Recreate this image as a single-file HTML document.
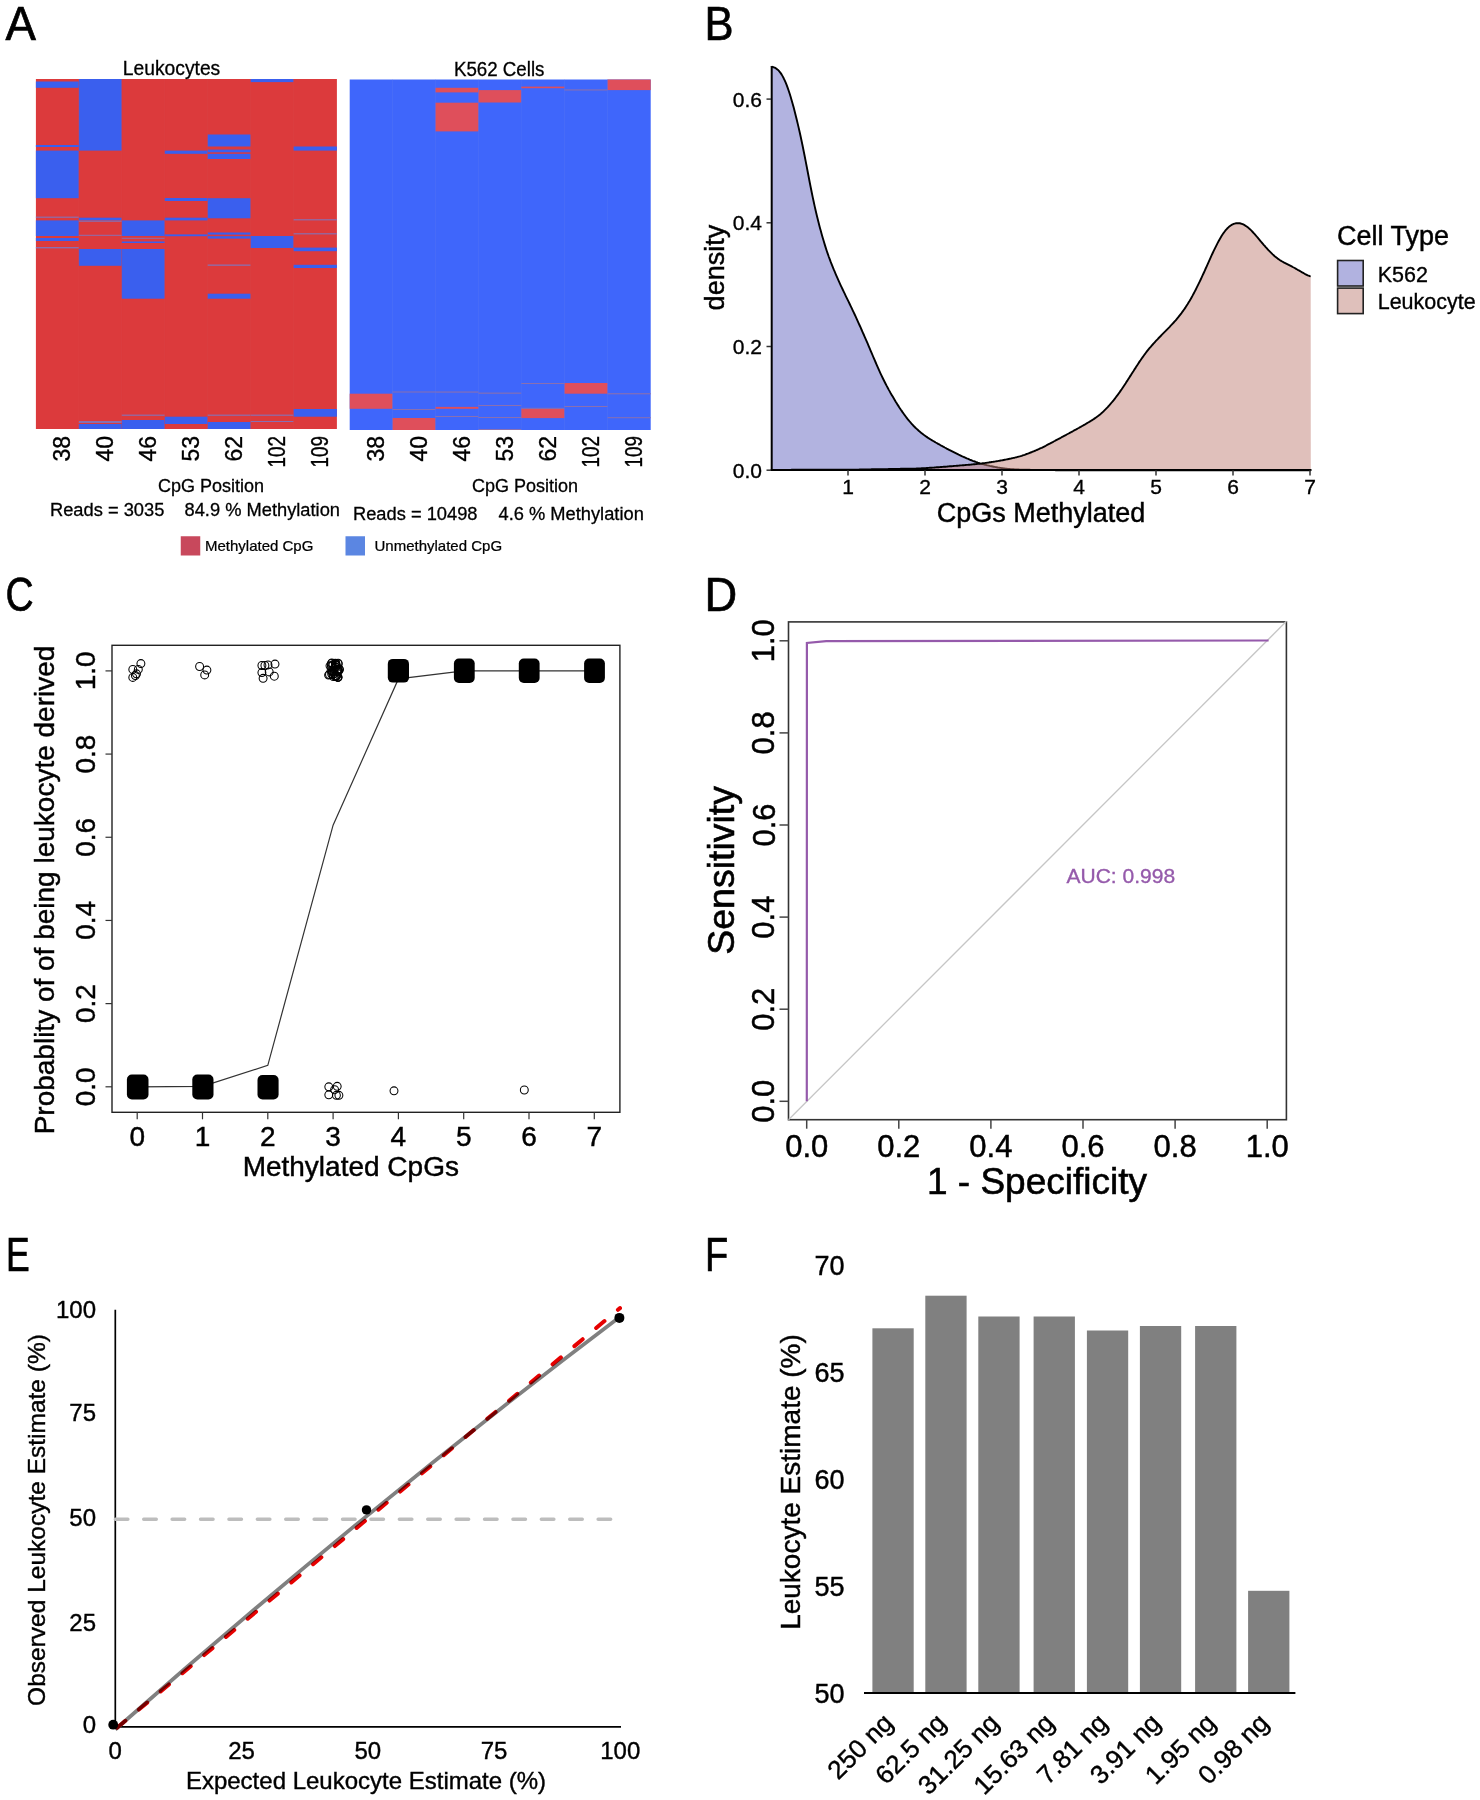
<!DOCTYPE html>
<html><head><meta charset="utf-8"><title>Figure</title>
<style>
html,body{margin:0;padding:0;background:#fff;}
body{width:1480px;height:1800px;overflow:hidden;}
svg{display:block;font-family:"Liberation Sans", sans-serif;}
</style></head><body>
<svg width="1480" height="1800" viewBox="0 0 1480 1800">
<rect x="0" y="0" width="1480" height="1800" fill="#fff"/>
<text x="0" y="0" font-size="48.7" stroke="#000" stroke-width="0.7" transform="translate(5.45 40.3) scale(0.937 1)">A</text>
<text x="0" y="0" font-size="48.7" stroke="#000" stroke-width="0.7" transform="translate(704.6 40.2) scale(0.894 1)">B</text>
<text x="0" y="0" font-size="48.7" stroke="#000" stroke-width="0.7" transform="translate(5.55 611.2) scale(0.8 1)">C</text>
<text x="0" y="0" font-size="48.7" stroke="#000" stroke-width="0.7" transform="translate(704.4 611.3) scale(0.93 1)">D</text>
<text x="0" y="0" font-size="48.7" stroke="#000" stroke-width="0.7" transform="translate(5.96 1270.9) scale(0.73 1)">E</text>
<text x="0" y="0" font-size="48.7" stroke="#000" stroke-width="0.7" transform="translate(705.05 1270.9) scale(0.78 1)">F</text>
<rect x="35.90" y="79.00" width="301.00" height="350.00" fill="#dc3a3c" />
<rect x="35.90" y="81.50" width="42.90" height="6.30" fill="#3a5fee" />
<rect x="35.90" y="145.00" width="42.90" height="2.00" fill="#3a5fee" />
<rect x="35.90" y="150.60" width="42.90" height="47.60" fill="#3a5fee" />
<rect x="35.90" y="220.40" width="42.90" height="15.60" fill="#3a5fee" />
<rect x="35.90" y="238.00" width="42.90" height="3.00" fill="#3a5fee" />
<rect x="78.80" y="79.00" width="42.90" height="71.60" fill="#3a5fee" />
<rect x="78.80" y="217.70" width="42.90" height="2.70" fill="#3a5fee" />
<rect x="78.80" y="249.00" width="42.90" height="16.80" fill="#3a5fee" />
<rect x="78.80" y="424.00" width="42.90" height="5.00" fill="#3a5fee" />
<rect x="121.70" y="220.40" width="43.00" height="15.60" fill="#3a5fee" />
<rect x="121.70" y="241.50" width="43.00" height="1.50" fill="#3a5fee" />
<rect x="121.70" y="249.00" width="43.00" height="49.70" fill="#3a5fee" />
<rect x="121.70" y="420.00" width="43.00" height="9.00" fill="#3a5fee" />
<rect x="164.70" y="150.60" width="42.90" height="3.20" fill="#3a5fee" />
<rect x="164.70" y="198.00" width="42.90" height="3.00" fill="#3a5fee" />
<rect x="164.70" y="217.70" width="42.90" height="2.70" fill="#3a5fee" />
<rect x="164.70" y="416.70" width="42.90" height="7.30" fill="#3a5fee" />
<rect x="207.60" y="134.50" width="43.00" height="12.00" fill="#3a5fee" />
<rect x="207.60" y="149.60" width="43.00" height="2.70" fill="#3a5fee" />
<rect x="207.60" y="153.80" width="43.00" height="5.20" fill="#3a5fee" />
<rect x="207.60" y="198.20" width="43.00" height="20.10" fill="#3a5fee" />
<rect x="207.60" y="236.20" width="43.00" height="2.40" fill="#3a5fee" />
<rect x="207.60" y="232.50" width="43.00" height="2.10" fill="#3a5fee" />
<rect x="164.70" y="234.40" width="42.90" height="1.80" fill="#3a5fee" />
<rect x="207.60" y="293.70" width="43.00" height="5.00" fill="#3a5fee" />
<rect x="207.60" y="422.00" width="43.00" height="7.00" fill="#3a5fee" />
<rect x="250.60" y="79.00" width="42.90" height="3.10" fill="#3a5fee" />
<rect x="250.60" y="236.00" width="42.90" height="12.00" fill="#3a5fee" />
<rect x="293.50" y="146.50" width="43.40" height="4.10" fill="#3a5fee" />
<rect x="293.50" y="247.60" width="43.40" height="3.60" fill="#3a5fee" />
<rect x="293.50" y="264.80" width="43.40" height="3.20" fill="#3a5fee" />
<rect x="293.50" y="409.00" width="43.40" height="7.70" fill="#3a5fee" />
<rect x="35.90" y="216.60" width="42.90" height="1.20" fill="#8a6fb0" />
<rect x="35.90" y="247.00" width="42.90" height="1.40" fill="#8a6fb0" />
<rect x="78.80" y="220.60" width="42.90" height="1.20" fill="#8a6fb0" />
<rect x="78.80" y="234.80" width="42.90" height="1.00" fill="#8a6fb0" />
<rect x="78.80" y="421.00" width="42.90" height="2.00" fill="#8a6fb0" />
<rect x="121.70" y="237.80" width="43.00" height="1.00" fill="#8a6fb0" />
<rect x="207.60" y="264.50" width="43.00" height="1.30" fill="#8a6fb0" />
<rect x="121.70" y="414.60" width="43.00" height="1.20" fill="#8a6fb0" />
<rect x="207.60" y="414.60" width="43.00" height="1.20" fill="#8a6fb0" />
<rect x="250.60" y="414.60" width="42.90" height="1.20" fill="#8a6fb0" />
<rect x="293.50" y="219.20" width="43.40" height="1.20" fill="#8a6fb0" />
<rect x="293.50" y="233.20" width="43.40" height="1.20" fill="#8a6fb0" />
<rect x="250.60" y="421.00" width="42.90" height="1.00" fill="#8a6fb0" />
<rect x="78.40" y="79.00" width="0.80" height="350.00" fill="#d9484a" opacity="0.35"/>
<rect x="121.30" y="79.00" width="0.80" height="350.00" fill="#d9484a" opacity="0.35"/>
<rect x="164.30" y="79.00" width="0.80" height="350.00" fill="#d9484a" opacity="0.35"/>
<rect x="207.20" y="79.00" width="0.80" height="350.00" fill="#d9484a" opacity="0.35"/>
<rect x="250.20" y="79.00" width="0.80" height="350.00" fill="#d9484a" opacity="0.35"/>
<rect x="293.10" y="79.00" width="0.80" height="350.00" fill="#d9484a" opacity="0.35"/>
<rect x="349.70" y="79.50" width="301.00" height="350.50" fill="#3f66fb" />
<rect x="435.40" y="87.80" width="43.00" height="4.60" fill="#df4f5b" />
<rect x="435.40" y="102.70" width="43.00" height="28.70" fill="#df4f5b" />
<rect x="478.40" y="90.10" width="42.80" height="12.40" fill="#df4f5b" />
<rect x="521.20" y="86.60" width="43.20" height="1.60" fill="#df4f5b" />
<rect x="607.50" y="79.50" width="43.20" height="10.60" fill="#df4f5b" />
<rect x="349.70" y="393.70" width="42.80" height="15.10" fill="#df4f5b" />
<rect x="392.50" y="418.00" width="42.90" height="12.00" fill="#df4f5b" />
<rect x="435.40" y="406.90" width="43.00" height="1.90" fill="#df4f5b" />
<rect x="521.20" y="408.80" width="43.20" height="9.30" fill="#df4f5b" />
<rect x="564.40" y="383.00" width="43.10" height="10.70" fill="#df4f5b" />
<rect x="564.40" y="89.40" width="43.10" height="1.10" fill="#8a6fb0" />
<rect x="392.50" y="391.50" width="42.90" height="1.00" fill="#8a6fb0" />
<rect x="435.40" y="391.50" width="43.00" height="1.10" fill="#8a6fb0" />
<rect x="478.40" y="392.60" width="42.80" height="1.10" fill="#8a6fb0" />
<rect x="521.20" y="383.00" width="43.20" height="1.00" fill="#8a6fb0" />
<rect x="478.40" y="405.00" width="42.80" height="1.00" fill="#8a6fb0" />
<rect x="435.40" y="416.00" width="43.00" height="1.00" fill="#8a6fb0" />
<rect x="478.40" y="417.00" width="42.80" height="1.00" fill="#8a6fb0" />
<rect x="564.40" y="406.00" width="43.10" height="1.00" fill="#8a6fb0" />
<rect x="607.50" y="393.20" width="43.20" height="1.10" fill="#8a6fb0" />
<rect x="607.50" y="417.20" width="43.20" height="1.00" fill="#8a6fb0" />
<rect x="392.50" y="409.00" width="42.90" height="1.00" fill="#8a6fb0" />
<rect x="521.20" y="407.80" width="43.20" height="1.00" fill="#8a6fb0" />
<rect x="478.40" y="429.00" width="42.80" height="1.00" fill="#8a6fb0" />
<rect x="392.10" y="79.50" width="0.80" height="350.50" fill="#5f7cf0" opacity="0.35"/>
<rect x="435.00" y="79.50" width="0.80" height="350.50" fill="#5f7cf0" opacity="0.35"/>
<rect x="478.00" y="79.50" width="0.80" height="350.50" fill="#5f7cf0" opacity="0.35"/>
<rect x="520.80" y="79.50" width="0.80" height="350.50" fill="#5f7cf0" opacity="0.35"/>
<rect x="564.00" y="79.50" width="0.80" height="350.50" fill="#5f7cf0" opacity="0.35"/>
<rect x="607.10" y="79.50" width="0.80" height="350.50" fill="#5f7cf0" opacity="0.35"/>
<text x="171.5" y="75.3" font-size="20" text-anchor="middle" fill="#000" stroke="#000" stroke-width="0.3" textLength="97.5" lengthAdjust="spacingAndGlyphs">Leukocytes</text>
<text x="499.2" y="75.6" font-size="20" text-anchor="middle" fill="#000" stroke="#000" stroke-width="0.3" textLength="90.5" lengthAdjust="spacingAndGlyphs">K562 Cells</text>
<text x="70.3" y="436.0" font-size="23" text-anchor="end" fill="#000" stroke="#000" stroke-width="0.37" transform="rotate(-90 70.3 436.0)" >38</text>
<text x="384.1" y="436.0" font-size="23" text-anchor="end" fill="#000" stroke="#000" stroke-width="0.37" transform="rotate(-90 384.1 436.0)" >38</text>
<text x="113.2" y="436.0" font-size="23" text-anchor="end" fill="#000" stroke="#000" stroke-width="0.37" transform="rotate(-90 113.2 436.0)" >40</text>
<text x="426.9" y="436.0" font-size="23" text-anchor="end" fill="#000" stroke="#000" stroke-width="0.37" transform="rotate(-90 426.9 436.0)" >40</text>
<text x="156.2" y="436.0" font-size="23" text-anchor="end" fill="#000" stroke="#000" stroke-width="0.37" transform="rotate(-90 156.2 436.0)" >46</text>
<text x="469.9" y="436.0" font-size="23" text-anchor="end" fill="#000" stroke="#000" stroke-width="0.37" transform="rotate(-90 469.9 436.0)" >46</text>
<text x="199.1" y="436.0" font-size="23" text-anchor="end" fill="#000" stroke="#000" stroke-width="0.37" transform="rotate(-90 199.1 436.0)" >53</text>
<text x="512.8" y="436.0" font-size="23" text-anchor="end" fill="#000" stroke="#000" stroke-width="0.37" transform="rotate(-90 512.8 436.0)" >53</text>
<text x="242.1" y="436.0" font-size="23" text-anchor="end" fill="#000" stroke="#000" stroke-width="0.37" transform="rotate(-90 242.1 436.0)" >62</text>
<text x="555.8" y="436.0" font-size="23" text-anchor="end" fill="#000" stroke="#000" stroke-width="0.37" transform="rotate(-90 555.8 436.0)" >62</text>
<text x="285.1" y="436.0" font-size="23" text-anchor="end" fill="#000" stroke="#000" stroke-width="0.37" transform="rotate(-90 285.1 436.0)" textLength="31.5" lengthAdjust="spacingAndGlyphs">102</text>
<text x="599.0" y="436.0" font-size="23" text-anchor="end" fill="#000" stroke="#000" stroke-width="0.37" transform="rotate(-90 599.0 436.0)" textLength="31.5" lengthAdjust="spacingAndGlyphs">102</text>
<text x="328.2" y="436.0" font-size="23" text-anchor="end" fill="#000" stroke="#000" stroke-width="0.37" transform="rotate(-90 328.2 436.0)" textLength="31.5" lengthAdjust="spacingAndGlyphs">109</text>
<text x="642.1" y="436.0" font-size="23" text-anchor="end" fill="#000" stroke="#000" stroke-width="0.37" transform="rotate(-90 642.1 436.0)" textLength="31.5" lengthAdjust="spacingAndGlyphs">109</text>
<text x="211.0" y="491.5" font-size="18" text-anchor="middle" fill="#000" stroke="#000" stroke-width="0.29" >CpG Position</text>
<text x="525.0" y="491.5" font-size="18" text-anchor="middle" fill="#000" stroke="#000" stroke-width="0.29" >CpG Position</text>
<text x="50.0" y="516.3" font-size="18.3" text-anchor="start" fill="#000" stroke="#000" stroke-width="0.29" >Reads = 3035</text>
<text x="184.5" y="516.3" font-size="18.3" text-anchor="start" fill="#000" stroke="#000" stroke-width="0.29" >84.9 % Methylation</text>
<text x="353.0" y="520.0" font-size="18.3" text-anchor="start" fill="#000" stroke="#000" stroke-width="0.29" >Reads = 10498</text>
<text x="498.5" y="520.0" font-size="18.3" text-anchor="start" fill="#000" stroke="#000" stroke-width="0.29" >4.6 % Methylation</text>
<rect x="180.75" y="536.25" width="19.50" height="19.25" fill="#c8485c" />
<text x="205.0" y="551.3" font-size="15" text-anchor="start" fill="#000" stroke="#000" stroke-width="0.24" >Methylated CpG</text>
<rect x="345.50" y="536.25" width="19.50" height="19.25" fill="#5b86e2" />
<text x="374.5" y="551.3" font-size="15" text-anchor="start" fill="#000" stroke="#000" stroke-width="0.24" >Unmethylated CpG</text>
<path d="M771.7,470 L771.7,66.2 L771.7,66.7 L772.7,66.9 L773.7,67.3 L774.7,67.7 L775.7,68.2 L776.7,68.9 L777.7,69.7 L778.7,70.7 L779.7,71.8 L780.7,73.1 L781.7,74.6 L782.7,76.4 L783.7,78.3 L784.7,80.4 L785.7,82.7 L786.7,85.2 L787.7,87.9 L788.7,90.7 L789.7,93.8 L790.7,97.0 L791.7,100.4 L792.7,103.9 L793.7,107.6 L794.7,111.4 L795.7,115.4 L796.7,119.4 L797.7,123.6 L798.7,127.9 L799.7,132.3 L800.7,136.8 L801.7,141.5 L802.7,146.3 L803.7,151.2 L804.7,156.2 L805.7,161.4 L806.7,166.5 L807.7,171.8 L808.7,177.0 L809.7,182.2 L810.7,187.3 L811.7,192.3 L812.7,197.1 L813.7,201.8 L814.7,206.4 L815.7,210.7 L816.7,215.0 L817.7,219.1 L818.7,223.0 L819.7,226.9 L820.7,230.6 L821.7,234.2 L822.7,237.7 L823.7,241.1 L824.7,244.4 L825.7,247.6 L826.7,250.7 L827.7,253.6 L828.7,256.5 L829.7,259.2 L830.7,261.9 L831.7,264.4 L832.7,266.9 L833.7,269.4 L834.7,271.7 L835.7,274.1 L836.7,276.4 L837.7,278.7 L838.7,280.9 L839.7,283.1 L840.7,285.3 L841.7,287.4 L842.7,289.5 L843.7,291.6 L844.7,293.7 L845.7,295.8 L846.7,297.8 L847.7,299.9 L848.7,301.9 L849.7,304.0 L850.7,306.1 L851.7,308.2 L852.7,310.3 L853.7,312.4 L854.7,314.5 L855.7,316.7 L856.7,318.9 L857.7,321.1 L858.7,323.3 L859.7,325.5 L860.7,327.7 L861.7,330.0 L862.7,332.3 L863.7,334.5 L864.7,336.8 L865.7,339.1 L866.7,341.4 L867.7,343.7 L868.7,346.1 L869.7,348.4 L870.7,350.8 L871.7,353.1 L872.7,355.5 L873.7,357.8 L874.7,360.2 L875.7,362.5 L876.7,364.8 L877.7,367.1 L878.7,369.4 L879.7,371.6 L880.7,373.8 L881.7,375.9 L882.7,378.0 L883.7,380.0 L884.7,382.0 L885.7,384.0 L886.7,385.9 L887.7,387.7 L888.7,389.6 L889.7,391.4 L890.7,393.2 L891.7,394.9 L892.7,396.6 L893.7,398.3 L894.7,400.0 L895.7,401.7 L896.7,403.3 L897.7,404.9 L898.7,406.4 L899.7,408.0 L900.7,409.5 L901.7,410.9 L902.7,412.4 L903.7,413.8 L904.7,415.2 L905.7,416.5 L906.7,417.8 L907.7,419.1 L908.7,420.3 L909.7,421.5 L910.7,422.7 L911.7,423.8 L912.7,424.9 L913.7,426.0 L914.7,427.0 L915.7,428.0 L916.7,428.9 L917.7,429.8 L918.7,430.7 L919.7,431.6 L920.7,432.4 L921.7,433.2 L922.7,434.0 L923.7,434.8 L924.7,435.5 L925.7,436.2 L926.7,436.9 L927.7,437.6 L928.7,438.2 L929.7,438.9 L930.7,439.5 L931.7,440.1 L932.7,440.7 L933.7,441.3 L934.7,441.9 L935.7,442.5 L936.7,443.0 L937.7,443.6 L938.7,444.2 L939.7,444.7 L940.7,445.3 L941.7,445.8 L942.7,446.4 L943.7,446.9 L944.7,447.5 L945.7,448.0 L946.7,448.6 L947.7,449.1 L948.7,449.6 L949.7,450.2 L950.7,450.7 L951.7,451.2 L952.7,451.7 L953.7,452.2 L954.7,452.7 L955.7,453.2 L956.7,453.7 L957.7,454.2 L958.7,454.7 L959.7,455.1 L960.7,455.6 L961.7,456.1 L962.7,456.5 L963.7,457.0 L964.7,457.4 L965.7,457.8 L966.7,458.3 L967.7,458.7 L968.7,459.1 L969.7,459.6 L970.7,460.0 L971.7,460.4 L972.7,460.8 L973.7,461.1 L974.7,461.5 L975.7,461.9 L976.7,462.2 L977.7,462.6 L978.7,462.9 L979.7,463.3 L980.7,463.6 L981.7,463.9 L982.7,464.1 L983.7,464.4 L984.7,464.7 L985.7,464.9 L986.7,465.2 L987.7,465.4 L988.7,465.6 L989.7,465.9 L990.7,466.1 L991.7,466.3 L992.7,466.5 L993.7,466.7 L994.7,466.9 L995.7,467.1 L996.7,467.3 L997.7,467.5 L998.7,467.6 L999.7,467.8 L1000.7,467.9 L1001.7,468.1 L1002.7,468.2 L1003.7,468.4 L1004.7,468.5 L1005.7,468.6 L1006.7,468.7 L1007.7,468.9 L1008.7,469.0 L1009.7,469.0 L1010.7,469.1 L1011.7,469.2 L1012.7,469.3 L1013.7,469.3 L1014.7,469.4 L1015.7,469.4 L1016.7,469.4 L1017.7,469.5 L1018.7,469.5 L1019.7,469.6 L1020.7,469.6 L1021.7,469.6 L1022.7,469.7 L1023.7,469.7 L1024.7,469.7 L1025.7,469.7 L1026.7,469.8 L1027.7,469.8 L1028.7,469.8 L1029.7,469.8 L1030.7,469.9 L1031.7,469.9 L1032.7,469.9 L1033.7,469.9 L1034.7,469.9 L1035.7,469.9 L1036.7,470.0 L1037.7,470.0 L1038.7,470.0 L1039.7,470.0 L1040.7,470.0 L1041.7,470.0 L1042.7,470.0 L1043.7,470.0 L1044.7,470.0 L1045.7,470.1 L1046.7,470.1 L1047.7,470.1 L1048.7,470.1 L1049.7,470.1 L1050.7,470.1 L1051.7,470.1 L1052.7,470.1 L1053.7,470.1 L1054.7,470.1 L1055.7,470.2 L1056.7,470.2 L1057.7,470.2 L1058.7,470.2 L1059.7,470.2 L1060.7,470.2 L1061.7,470.2 L1062.7,470.2 L1063.7,470.2 L1064.7,470.2 L1065.7,470.2 L1066.7,470.2 L1067.7,470.2 L1068.7,470.2 L1069.7,470.2 L1070.7,470.2 L1071.7,470.2 L1072.7,470.2 L1073.7,470.2 L1074.7,470.2 L1075.7,470.2 L1076.7,470.2 L1077.7,470.2 L1078.7,470.2 L1079.7,470.2 L1080.7,470.2 L1081.7,470.2 L1082.7,470.2 L1083.7,470.2 L1084.7,470.2 L1085.7,470.2 L1086.7,470.2 L1087.7,470.2 L1088.7,470.2 L1089.7,470.2 L1090.7,470.2 L1091.7,470.2 L1092.7,470.2 L1093.7,470.2 L1094.7,470.2 L1095.7,470.2 L1096.7,470.2 L1097.7,470.2 L1098.7,470.2 L1099.7,470.2 L1100.7,470.2 L1101.7,470.2 L1102.7,470.2 L1103.7,470.2 L1104.7,470.2 L1105.7,470.2 L1106.7,470.2 L1107.7,470.2 L1108.7,470.2 L1109.7,470.2 L1110.7,470.2 L1111.7,470.2 L1112.7,470.2 L1113.7,470.2 L1114.7,470.2 L1115.7,470.2 L1116.7,470.2 L1117.7,470.2 L1118.7,470.2 L1119.7,470.2 L1120.7,470.2 L1121.7,470.2 L1122.7,470.2 L1123.7,470.2 L1124.7,470.2 L1125.7,470.2 L1126.7,470.2 L1127.7,470.2 L1128.7,470.2 L1129.7,470.2 L1130.7,470.2 L1131.7,470.2 L1132.7,470.2 L1133.7,470.2 L1134.7,470.2 L1135.7,470.2 L1136.7,470.2 L1137.7,470.2 L1138.7,470.2 L1139.7,470.2 L1140.7,470.2 L1141.7,470.2 L1142.7,470.2 L1143.7,470.2 L1144.7,470.2 L1145.7,470.2 L1146.7,470.2 L1147.7,470.2 L1148.7,470.2 L1149.7,470.2 L1150.7,470.2 L1151.7,470.2 L1152.7,470.2 L1153.7,470.2 L1154.7,470.2 L1155.7,470.2 L1156.7,470.2 L1157.7,470.2 L1158.7,470.2 L1159.7,470.2 L1160.7,470.2 L1161.7,470.2 L1162.7,470.2 L1163.7,470.2 L1164.7,470.2 L1165.7,470.2 L1166.7,470.2 L1167.7,470.2 L1168.7,470.2 L1169.7,470.2 L1170.7,470.2 L1171.7,470.2 L1172.7,470.2 L1173.7,470.2 L1174.7,470.2 L1175.7,470.2 L1176.7,470.2 L1177.7,470.2 L1178.7,470.2 L1179.7,470.2 L1180.7,470.2 L1181.7,470.2 L1182.7,470.2 L1183.7,470.2 L1184.7,470.2 L1185.7,470.2 L1186.7,470.2 L1187.7,470.2 L1188.7,470.2 L1189.7,470.2 L1190.7,470.2 L1191.7,470.2 L1192.7,470.2 L1193.7,470.2 L1194.7,470.2 L1195.7,470.2 L1196.7,470.2 L1197.7,470.2 L1198.7,470.2 L1199.7,470.2 L1200.7,470.2 L1201.7,470.2 L1202.7,470.2 L1203.7,470.2 L1204.7,470.2 L1205.7,470.2 L1206.7,470.2 L1207.7,470.2 L1208.7,470.2 L1209.7,470.2 L1210.7,470.2 L1211.7,470.2 L1212.7,470.2 L1213.7,470.2 L1214.7,470.2 L1215.7,470.2 L1216.7,470.2 L1217.7,470.2 L1218.7,470.2 L1219.7,470.2 L1220.7,470.2 L1221.7,470.2 L1222.7,470.2 L1223.7,470.2 L1224.7,470.2 L1225.7,470.2 L1226.7,470.2 L1227.7,470.2 L1228.7,470.2 L1229.7,470.2 L1230.7,470.2 L1231.7,470.2 L1232.7,470.2 L1233.7,470.2 L1234.7,470.2 L1235.7,470.2 L1236.7,470.2 L1237.7,470.2 L1238.7,470.2 L1239.7,470.2 L1240.7,470.2 L1241.7,470.2 L1242.7,470.2 L1243.7,470.2 L1244.7,470.2 L1245.7,470.2 L1246.7,470.2 L1247.7,470.2 L1248.7,470.2 L1249.7,470.2 L1250.7,470.2 L1251.7,470.2 L1252.7,470.2 L1253.7,470.2 L1254.7,470.2 L1255.7,470.2 L1256.7,470.2 L1257.7,470.2 L1258.7,470.2 L1259.7,470.2 L1260.7,470.2 L1261.7,470.2 L1262.7,470.2 L1263.7,470.2 L1264.7,470.2 L1265.7,470.2 L1266.7,470.2 L1267.7,470.2 L1268.7,470.2 L1269.7,470.2 L1270.7,470.2 L1271.7,470.2 L1272.7,470.2 L1273.7,470.2 L1274.7,470.2 L1275.7,470.2 L1276.7,470.2 L1277.7,470.2 L1278.7,470.2 L1279.7,470.2 L1280.7,470.2 L1281.7,470.2 L1282.7,470.2 L1283.7,470.2 L1284.7,470.2 L1285.7,470.2 L1286.7,470.2 L1287.7,470.2 L1288.7,470.2 L1289.7,470.2 L1290.7,470.2 L1291.7,470.2 L1292.7,470.2 L1293.7,470.2 L1294.7,470.2 L1295.7,470.2 L1296.7,470.2 L1297.7,470.2 L1298.7,470.2 L1299.7,470.2 L1300.7,470.2 L1301.7,470.2 L1302.7,470.2 L1303.7,470.2 L1304.7,470.2 L1305.7,470.2 L1306.7,470.2 L1307.7,470.2 L1308.7,470.2 L1309.7,470.2 L1310.7,470.2 L1310.8,470 Z" fill="#6567c1" fill-opacity="0.5"/>
<path d="M771.7,66.2 L771.7,66.7 L772.7,66.9 L773.7,67.3 L774.7,67.7 L775.7,68.2 L776.7,68.9 L777.7,69.7 L778.7,70.7 L779.7,71.8 L780.7,73.1 L781.7,74.6 L782.7,76.4 L783.7,78.3 L784.7,80.4 L785.7,82.7 L786.7,85.2 L787.7,87.9 L788.7,90.7 L789.7,93.8 L790.7,97.0 L791.7,100.4 L792.7,103.9 L793.7,107.6 L794.7,111.4 L795.7,115.4 L796.7,119.4 L797.7,123.6 L798.7,127.9 L799.7,132.3 L800.7,136.8 L801.7,141.5 L802.7,146.3 L803.7,151.2 L804.7,156.2 L805.7,161.4 L806.7,166.5 L807.7,171.8 L808.7,177.0 L809.7,182.2 L810.7,187.3 L811.7,192.3 L812.7,197.1 L813.7,201.8 L814.7,206.4 L815.7,210.7 L816.7,215.0 L817.7,219.1 L818.7,223.0 L819.7,226.9 L820.7,230.6 L821.7,234.2 L822.7,237.7 L823.7,241.1 L824.7,244.4 L825.7,247.6 L826.7,250.7 L827.7,253.6 L828.7,256.5 L829.7,259.2 L830.7,261.9 L831.7,264.4 L832.7,266.9 L833.7,269.4 L834.7,271.7 L835.7,274.1 L836.7,276.4 L837.7,278.7 L838.7,280.9 L839.7,283.1 L840.7,285.3 L841.7,287.4 L842.7,289.5 L843.7,291.6 L844.7,293.7 L845.7,295.8 L846.7,297.8 L847.7,299.9 L848.7,301.9 L849.7,304.0 L850.7,306.1 L851.7,308.2 L852.7,310.3 L853.7,312.4 L854.7,314.5 L855.7,316.7 L856.7,318.9 L857.7,321.1 L858.7,323.3 L859.7,325.5 L860.7,327.7 L861.7,330.0 L862.7,332.3 L863.7,334.5 L864.7,336.8 L865.7,339.1 L866.7,341.4 L867.7,343.7 L868.7,346.1 L869.7,348.4 L870.7,350.8 L871.7,353.1 L872.7,355.5 L873.7,357.8 L874.7,360.2 L875.7,362.5 L876.7,364.8 L877.7,367.1 L878.7,369.4 L879.7,371.6 L880.7,373.8 L881.7,375.9 L882.7,378.0 L883.7,380.0 L884.7,382.0 L885.7,384.0 L886.7,385.9 L887.7,387.7 L888.7,389.6 L889.7,391.4 L890.7,393.2 L891.7,394.9 L892.7,396.6 L893.7,398.3 L894.7,400.0 L895.7,401.7 L896.7,403.3 L897.7,404.9 L898.7,406.4 L899.7,408.0 L900.7,409.5 L901.7,410.9 L902.7,412.4 L903.7,413.8 L904.7,415.2 L905.7,416.5 L906.7,417.8 L907.7,419.1 L908.7,420.3 L909.7,421.5 L910.7,422.7 L911.7,423.8 L912.7,424.9 L913.7,426.0 L914.7,427.0 L915.7,428.0 L916.7,428.9 L917.7,429.8 L918.7,430.7 L919.7,431.6 L920.7,432.4 L921.7,433.2 L922.7,434.0 L923.7,434.8 L924.7,435.5 L925.7,436.2 L926.7,436.9 L927.7,437.6 L928.7,438.2 L929.7,438.9 L930.7,439.5 L931.7,440.1 L932.7,440.7 L933.7,441.3 L934.7,441.9 L935.7,442.5 L936.7,443.0 L937.7,443.6 L938.7,444.2 L939.7,444.7 L940.7,445.3 L941.7,445.8 L942.7,446.4 L943.7,446.9 L944.7,447.5 L945.7,448.0 L946.7,448.6 L947.7,449.1 L948.7,449.6 L949.7,450.2 L950.7,450.7 L951.7,451.2 L952.7,451.7 L953.7,452.2 L954.7,452.7 L955.7,453.2 L956.7,453.7 L957.7,454.2 L958.7,454.7 L959.7,455.1 L960.7,455.6 L961.7,456.1 L962.7,456.5 L963.7,457.0 L964.7,457.4 L965.7,457.8 L966.7,458.3 L967.7,458.7 L968.7,459.1 L969.7,459.6 L970.7,460.0 L971.7,460.4 L972.7,460.8 L973.7,461.1 L974.7,461.5 L975.7,461.9 L976.7,462.2 L977.7,462.6 L978.7,462.9 L979.7,463.3 L980.7,463.6 L981.7,463.9 L982.7,464.1 L983.7,464.4 L984.7,464.7 L985.7,464.9 L986.7,465.2 L987.7,465.4 L988.7,465.6 L989.7,465.9 L990.7,466.1 L991.7,466.3 L992.7,466.5 L993.7,466.7 L994.7,466.9 L995.7,467.1 L996.7,467.3 L997.7,467.5 L998.7,467.6 L999.7,467.8 L1000.7,467.9 L1001.7,468.1 L1002.7,468.2 L1003.7,468.4 L1004.7,468.5 L1005.7,468.6 L1006.7,468.7 L1007.7,468.9 L1008.7,469.0 L1009.7,469.0 L1010.7,469.1 L1011.7,469.2 L1012.7,469.3 L1013.7,469.3 L1014.7,469.4 L1015.7,469.4 L1016.7,469.4 L1017.7,469.5 L1018.7,469.5 L1019.7,469.6 L1020.7,469.6 L1021.7,469.6 L1022.7,469.7 L1023.7,469.7 L1024.7,469.7 L1025.7,469.7 L1026.7,469.8 L1027.7,469.8 L1028.7,469.8 L1029.7,469.8 L1030.7,469.9 L1031.7,469.9 L1032.7,469.9 L1033.7,469.9 L1034.7,469.9 L1035.7,469.9 L1036.7,470.0 L1037.7,470.0 L1038.7,470.0 L1039.7,470.0 L1040.7,470.0 L1041.7,470.0 L1042.7,470.0 L1043.7,470.0 L1044.7,470.0 L1045.7,470.1 L1046.7,470.1 L1047.7,470.1 L1048.7,470.1 L1049.7,470.1 L1050.7,470.1 L1051.7,470.1 L1052.7,470.1 L1053.7,470.1 L1054.7,470.1 L1055.7,470.2 L1056.7,470.2 L1057.7,470.2 L1058.7,470.2 L1059.7,470.2 L1060.7,470.2 L1061.7,470.2 L1062.7,470.2 L1063.7,470.2 L1064.7,470.2 L1065.7,470.2 L1066.7,470.2 L1067.7,470.2 L1068.7,470.2 L1069.7,470.2 L1070.7,470.2 L1071.7,470.2 L1072.7,470.2 L1073.7,470.2 L1074.7,470.2 L1075.7,470.2 L1076.7,470.2 L1077.7,470.2 L1078.7,470.2 L1079.7,470.2 L1080.7,470.2 L1081.7,470.2 L1082.7,470.2 L1083.7,470.2 L1084.7,470.2 L1085.7,470.2 L1086.7,470.2 L1087.7,470.2 L1088.7,470.2 L1089.7,470.2 L1090.7,470.2 L1091.7,470.2 L1092.7,470.2 L1093.7,470.2 L1094.7,470.2 L1095.7,470.2 L1096.7,470.2 L1097.7,470.2 L1098.7,470.2 L1099.7,470.2 L1100.7,470.2 L1101.7,470.2 L1102.7,470.2 L1103.7,470.2 L1104.7,470.2 L1105.7,470.2 L1106.7,470.2 L1107.7,470.2 L1108.7,470.2 L1109.7,470.2 L1110.7,470.2 L1111.7,470.2 L1112.7,470.2 L1113.7,470.2 L1114.7,470.2 L1115.7,470.2 L1116.7,470.2 L1117.7,470.2 L1118.7,470.2 L1119.7,470.2 L1120.7,470.2 L1121.7,470.2 L1122.7,470.2 L1123.7,470.2 L1124.7,470.2 L1125.7,470.2 L1126.7,470.2 L1127.7,470.2 L1128.7,470.2 L1129.7,470.2 L1130.7,470.2 L1131.7,470.2 L1132.7,470.2 L1133.7,470.2 L1134.7,470.2 L1135.7,470.2 L1136.7,470.2 L1137.7,470.2 L1138.7,470.2 L1139.7,470.2 L1140.7,470.2 L1141.7,470.2 L1142.7,470.2 L1143.7,470.2 L1144.7,470.2 L1145.7,470.2 L1146.7,470.2 L1147.7,470.2 L1148.7,470.2 L1149.7,470.2 L1150.7,470.2 L1151.7,470.2 L1152.7,470.2 L1153.7,470.2 L1154.7,470.2 L1155.7,470.2 L1156.7,470.2 L1157.7,470.2 L1158.7,470.2 L1159.7,470.2 L1160.7,470.2 L1161.7,470.2 L1162.7,470.2 L1163.7,470.2 L1164.7,470.2 L1165.7,470.2 L1166.7,470.2 L1167.7,470.2 L1168.7,470.2 L1169.7,470.2 L1170.7,470.2 L1171.7,470.2 L1172.7,470.2 L1173.7,470.2 L1174.7,470.2 L1175.7,470.2 L1176.7,470.2 L1177.7,470.2 L1178.7,470.2 L1179.7,470.2 L1180.7,470.2 L1181.7,470.2 L1182.7,470.2 L1183.7,470.2 L1184.7,470.2 L1185.7,470.2 L1186.7,470.2 L1187.7,470.2 L1188.7,470.2 L1189.7,470.2 L1190.7,470.2 L1191.7,470.2 L1192.7,470.2 L1193.7,470.2 L1194.7,470.2 L1195.7,470.2 L1196.7,470.2 L1197.7,470.2 L1198.7,470.2 L1199.7,470.2 L1200.7,470.2 L1201.7,470.2 L1202.7,470.2 L1203.7,470.2 L1204.7,470.2 L1205.7,470.2 L1206.7,470.2 L1207.7,470.2 L1208.7,470.2 L1209.7,470.2 L1210.7,470.2 L1211.7,470.2 L1212.7,470.2 L1213.7,470.2 L1214.7,470.2 L1215.7,470.2 L1216.7,470.2 L1217.7,470.2 L1218.7,470.2 L1219.7,470.2 L1220.7,470.2 L1221.7,470.2 L1222.7,470.2 L1223.7,470.2 L1224.7,470.2 L1225.7,470.2 L1226.7,470.2 L1227.7,470.2 L1228.7,470.2 L1229.7,470.2 L1230.7,470.2 L1231.7,470.2 L1232.7,470.2 L1233.7,470.2 L1234.7,470.2 L1235.7,470.2 L1236.7,470.2 L1237.7,470.2 L1238.7,470.2 L1239.7,470.2 L1240.7,470.2 L1241.7,470.2 L1242.7,470.2 L1243.7,470.2 L1244.7,470.2 L1245.7,470.2 L1246.7,470.2 L1247.7,470.2 L1248.7,470.2 L1249.7,470.2 L1250.7,470.2 L1251.7,470.2 L1252.7,470.2 L1253.7,470.2 L1254.7,470.2 L1255.7,470.2 L1256.7,470.2 L1257.7,470.2 L1258.7,470.2 L1259.7,470.2 L1260.7,470.2 L1261.7,470.2 L1262.7,470.2 L1263.7,470.2 L1264.7,470.2 L1265.7,470.2 L1266.7,470.2 L1267.7,470.2 L1268.7,470.2 L1269.7,470.2 L1270.7,470.2 L1271.7,470.2 L1272.7,470.2 L1273.7,470.2 L1274.7,470.2 L1275.7,470.2 L1276.7,470.2 L1277.7,470.2 L1278.7,470.2 L1279.7,470.2 L1280.7,470.2 L1281.7,470.2 L1282.7,470.2 L1283.7,470.2 L1284.7,470.2 L1285.7,470.2 L1286.7,470.2 L1287.7,470.2 L1288.7,470.2 L1289.7,470.2 L1290.7,470.2 L1291.7,470.2 L1292.7,470.2 L1293.7,470.2 L1294.7,470.2 L1295.7,470.2 L1296.7,470.2 L1297.7,470.2 L1298.7,470.2 L1299.7,470.2 L1300.7,470.2 L1301.7,470.2 L1302.7,470.2 L1303.7,470.2 L1304.7,470.2 L1305.7,470.2 L1306.7,470.2 L1307.7,470.2 L1308.7,470.2 L1309.7,470.2 L1310.7,470.2" fill="none" stroke="#000" stroke-width="1.9" stroke-linejoin="round"/>
<path d="M771.7,470 L771.7,469.9 L772.7,469.9 L773.7,469.9 L774.7,469.9 L775.7,469.9 L776.7,469.9 L777.7,469.9 L778.7,469.9 L779.7,469.9 L780.7,469.9 L781.7,469.9 L782.7,469.9 L783.7,469.9 L784.7,469.9 L785.7,469.9 L786.7,469.9 L787.7,469.9 L788.7,469.9 L789.7,469.9 L790.7,469.9 L791.7,469.8 L792.7,469.8 L793.7,469.8 L794.7,469.8 L795.7,469.8 L796.7,469.8 L797.7,469.8 L798.7,469.8 L799.7,469.8 L800.7,469.8 L801.7,469.8 L802.7,469.8 L803.7,469.8 L804.7,469.8 L805.7,469.8 L806.7,469.8 L807.7,469.8 L808.7,469.8 L809.7,469.8 L810.7,469.8 L811.7,469.8 L812.7,469.8 L813.7,469.8 L814.7,469.8 L815.7,469.8 L816.7,469.8 L817.7,469.8 L818.7,469.8 L819.7,469.8 L820.7,469.8 L821.7,469.8 L822.7,469.8 L823.7,469.8 L824.7,469.8 L825.7,469.8 L826.7,469.8 L827.7,469.8 L828.7,469.8 L829.7,469.8 L830.7,469.7 L831.7,469.7 L832.7,469.7 L833.7,469.7 L834.7,469.7 L835.7,469.7 L836.7,469.7 L837.7,469.7 L838.7,469.7 L839.7,469.7 L840.7,469.7 L841.7,469.7 L842.7,469.7 L843.7,469.7 L844.7,469.7 L845.7,469.7 L846.7,469.7 L847.7,469.7 L848.7,469.7 L849.7,469.7 L850.7,469.7 L851.7,469.6 L852.7,469.6 L853.7,469.6 L854.7,469.6 L855.7,469.6 L856.7,469.6 L857.7,469.6 L858.7,469.6 L859.7,469.5 L860.7,469.5 L861.7,469.5 L862.7,469.5 L863.7,469.5 L864.7,469.5 L865.7,469.4 L866.7,469.4 L867.7,469.4 L868.7,469.4 L869.7,469.4 L870.7,469.4 L871.7,469.3 L872.7,469.3 L873.7,469.3 L874.7,469.3 L875.7,469.3 L876.7,469.2 L877.7,469.2 L878.7,469.2 L879.7,469.2 L880.7,469.2 L881.7,469.2 L882.7,469.1 L883.7,469.1 L884.7,469.1 L885.7,469.1 L886.7,469.1 L887.7,469.1 L888.7,469.0 L889.7,469.0 L890.7,469.0 L891.7,469.0 L892.7,469.0 L893.7,469.0 L894.7,468.9 L895.7,468.9 L896.7,468.9 L897.7,468.9 L898.7,468.9 L899.7,468.9 L900.7,468.8 L901.7,468.8 L902.7,468.8 L903.7,468.8 L904.7,468.8 L905.7,468.8 L906.7,468.7 L907.7,468.7 L908.7,468.7 L909.7,468.7 L910.7,468.7 L911.7,468.6 L912.7,468.6 L913.7,468.6 L914.7,468.6 L915.7,468.6 L916.7,468.5 L917.7,468.5 L918.7,468.5 L919.7,468.4 L920.7,468.4 L921.7,468.3 L922.7,468.3 L923.7,468.2 L924.7,468.2 L925.7,468.1 L926.7,468.0 L927.7,468.0 L928.7,467.9 L929.7,467.8 L930.7,467.8 L931.7,467.7 L932.7,467.6 L933.7,467.6 L934.7,467.5 L935.7,467.4 L936.7,467.3 L937.7,467.3 L938.7,467.2 L939.7,467.1 L940.7,467.0 L941.7,467.0 L942.7,466.9 L943.7,466.8 L944.7,466.7 L945.7,466.7 L946.7,466.6 L947.7,466.5 L948.7,466.4 L949.7,466.3 L950.7,466.3 L951.7,466.2 L952.7,466.1 L953.7,466.0 L954.7,465.9 L955.7,465.9 L956.7,465.8 L957.7,465.7 L958.7,465.6 L959.7,465.5 L960.7,465.4 L961.7,465.4 L962.7,465.3 L963.7,465.2 L964.7,465.1 L965.7,465.0 L966.7,464.9 L967.7,464.9 L968.7,464.8 L969.7,464.7 L970.7,464.6 L971.7,464.5 L972.7,464.4 L973.7,464.3 L974.7,464.2 L975.7,464.1 L976.7,464.0 L977.7,463.9 L978.7,463.8 L979.7,463.7 L980.7,463.6 L981.7,463.5 L982.7,463.3 L983.7,463.2 L984.7,463.1 L985.7,462.9 L986.7,462.8 L987.7,462.6 L988.7,462.5 L989.7,462.3 L990.7,462.2 L991.7,462.0 L992.7,461.9 L993.7,461.7 L994.7,461.6 L995.7,461.4 L996.7,461.2 L997.7,461.1 L998.7,460.9 L999.7,460.7 L1000.7,460.5 L1001.7,460.4 L1002.7,460.2 L1003.7,460.0 L1004.7,459.8 L1005.7,459.6 L1006.7,459.4 L1007.7,459.2 L1008.7,459.0 L1009.7,458.8 L1010.7,458.6 L1011.7,458.3 L1012.7,458.1 L1013.7,457.9 L1014.7,457.7 L1015.7,457.4 L1016.7,457.2 L1017.7,456.9 L1018.7,456.6 L1019.7,456.4 L1020.7,456.1 L1021.7,455.8 L1022.7,455.4 L1023.7,455.1 L1024.7,454.8 L1025.7,454.4 L1026.7,454.0 L1027.7,453.7 L1028.7,453.3 L1029.7,452.9 L1030.7,452.5 L1031.7,452.1 L1032.7,451.7 L1033.7,451.3 L1034.7,450.9 L1035.7,450.5 L1036.7,450.0 L1037.7,449.6 L1038.7,449.2 L1039.7,448.7 L1040.7,448.2 L1041.7,447.8 L1042.7,447.3 L1043.7,446.8 L1044.7,446.3 L1045.7,445.8 L1046.7,445.2 L1047.7,444.7 L1048.7,444.2 L1049.7,443.7 L1050.7,443.1 L1051.7,442.6 L1052.7,442.1 L1053.7,441.5 L1054.7,441.0 L1055.7,440.4 L1056.7,439.9 L1057.7,439.4 L1058.7,438.8 L1059.7,438.3 L1060.7,437.8 L1061.7,437.2 L1062.7,436.7 L1063.7,436.1 L1064.7,435.6 L1065.7,435.1 L1066.7,434.5 L1067.7,434.0 L1068.7,433.5 L1069.7,432.9 L1070.7,432.4 L1071.7,431.8 L1072.7,431.3 L1073.7,430.7 L1074.7,430.2 L1075.7,429.7 L1076.7,429.1 L1077.7,428.5 L1078.7,428.0 L1079.7,427.4 L1080.7,426.9 L1081.7,426.3 L1082.7,425.7 L1083.7,425.1 L1084.7,424.6 L1085.7,424.0 L1086.7,423.4 L1087.7,422.8 L1088.7,422.2 L1089.7,421.6 L1090.7,421.0 L1091.7,420.4 L1092.7,419.7 L1093.7,419.1 L1094.7,418.4 L1095.7,417.7 L1096.7,417.0 L1097.7,416.3 L1098.7,415.5 L1099.7,414.7 L1100.7,413.9 L1101.7,413.0 L1102.7,412.1 L1103.7,411.2 L1104.7,410.2 L1105.7,409.2 L1106.7,408.1 L1107.7,407.1 L1108.7,406.0 L1109.7,404.8 L1110.7,403.7 L1111.7,402.5 L1112.7,401.3 L1113.7,400.1 L1114.7,398.8 L1115.7,397.5 L1116.7,396.2 L1117.7,394.9 L1118.7,393.5 L1119.7,392.1 L1120.7,390.6 L1121.7,389.2 L1122.7,387.7 L1123.7,386.2 L1124.7,384.7 L1125.7,383.2 L1126.7,381.6 L1127.7,380.1 L1128.7,378.5 L1129.7,376.9 L1130.7,375.4 L1131.7,373.8 L1132.7,372.2 L1133.7,370.7 L1134.7,369.1 L1135.7,367.6 L1136.7,366.0 L1137.7,364.5 L1138.7,362.9 L1139.7,361.4 L1140.7,360.0 L1141.7,358.5 L1142.7,357.1 L1143.7,355.7 L1144.7,354.3 L1145.7,353.0 L1146.7,351.7 L1147.7,350.4 L1148.7,349.1 L1149.7,347.9 L1150.7,346.8 L1151.7,345.6 L1152.7,344.5 L1153.7,343.4 L1154.7,342.3 L1155.7,341.2 L1156.7,340.1 L1157.7,339.1 L1158.7,338.0 L1159.7,337.0 L1160.7,336.0 L1161.7,334.9 L1162.7,333.9 L1163.7,332.9 L1164.7,331.9 L1165.7,330.9 L1166.7,329.8 L1167.7,328.8 L1168.7,327.8 L1169.7,326.8 L1170.7,325.7 L1171.7,324.7 L1172.7,323.6 L1173.7,322.5 L1174.7,321.4 L1175.7,320.3 L1176.7,319.1 L1177.7,317.9 L1178.7,316.7 L1179.7,315.4 L1180.7,314.1 L1181.7,312.8 L1182.7,311.4 L1183.7,310.0 L1184.7,308.6 L1185.7,307.1 L1186.7,305.5 L1187.7,304.0 L1188.7,302.3 L1189.7,300.7 L1190.7,299.0 L1191.7,297.2 L1192.7,295.4 L1193.7,293.5 L1194.7,291.6 L1195.7,289.7 L1196.7,287.7 L1197.7,285.7 L1198.7,283.7 L1199.7,281.6 L1200.7,279.5 L1201.7,277.4 L1202.7,275.2 L1203.7,273.0 L1204.7,270.8 L1205.7,268.5 L1206.7,266.3 L1207.7,264.1 L1208.7,261.8 L1209.7,259.6 L1210.7,257.4 L1211.7,255.2 L1212.7,253.0 L1213.7,250.9 L1214.7,248.8 L1215.7,246.8 L1216.7,244.8 L1217.7,242.9 L1218.7,241.0 L1219.7,239.2 L1220.7,237.5 L1221.7,235.8 L1222.7,234.3 L1223.7,232.8 L1224.7,231.5 L1225.7,230.2 L1226.7,229.1 L1227.7,228.0 L1228.7,227.1 L1229.7,226.3 L1230.7,225.5 L1231.7,224.9 L1232.7,224.3 L1233.7,223.9 L1234.7,223.6 L1235.7,223.3 L1236.7,223.2 L1237.7,223.1 L1238.7,223.2 L1239.7,223.3 L1240.7,223.5 L1241.7,223.8 L1242.7,224.2 L1243.7,224.7 L1244.7,225.2 L1245.7,225.9 L1246.7,226.5 L1247.7,227.3 L1248.7,228.1 L1249.7,229.0 L1250.7,229.9 L1251.7,230.9 L1252.7,232.0 L1253.7,233.1 L1254.7,234.2 L1255.7,235.3 L1256.7,236.5 L1257.7,237.7 L1258.7,238.9 L1259.7,240.1 L1260.7,241.3 L1261.7,242.5 L1262.7,243.6 L1263.7,244.8 L1264.7,245.9 L1265.7,247.1 L1266.7,248.2 L1267.7,249.3 L1268.7,250.4 L1269.7,251.4 L1270.7,252.4 L1271.7,253.4 L1272.7,254.4 L1273.7,255.3 L1274.7,256.2 L1275.7,257.0 L1276.7,257.8 L1277.7,258.6 L1278.7,259.3 L1279.7,260.0 L1280.7,260.6 L1281.7,261.2 L1282.7,261.8 L1283.7,262.4 L1284.7,262.9 L1285.7,263.4 L1286.7,263.9 L1287.7,264.4 L1288.7,264.9 L1289.7,265.4 L1290.7,265.9 L1291.7,266.4 L1292.7,267.0 L1293.7,267.5 L1294.7,268.0 L1295.7,268.6 L1296.7,269.2 L1297.7,269.8 L1298.7,270.3 L1299.7,270.9 L1300.7,271.5 L1301.7,272.1 L1302.7,272.7 L1303.7,273.2 L1304.7,273.8 L1305.7,274.3 L1306.7,274.8 L1307.7,275.3 L1308.7,275.7 L1309.7,276.1 L1310.7,276.4 L1310.8,470 Z" fill="#c18177" fill-opacity="0.5"/>
<path d="M771.7,469.9 L772.7,469.9 L773.7,469.9 L774.7,469.9 L775.7,469.9 L776.7,469.9 L777.7,469.9 L778.7,469.9 L779.7,469.9 L780.7,469.9 L781.7,469.9 L782.7,469.9 L783.7,469.9 L784.7,469.9 L785.7,469.9 L786.7,469.9 L787.7,469.9 L788.7,469.9 L789.7,469.9 L790.7,469.9 L791.7,469.8 L792.7,469.8 L793.7,469.8 L794.7,469.8 L795.7,469.8 L796.7,469.8 L797.7,469.8 L798.7,469.8 L799.7,469.8 L800.7,469.8 L801.7,469.8 L802.7,469.8 L803.7,469.8 L804.7,469.8 L805.7,469.8 L806.7,469.8 L807.7,469.8 L808.7,469.8 L809.7,469.8 L810.7,469.8 L811.7,469.8 L812.7,469.8 L813.7,469.8 L814.7,469.8 L815.7,469.8 L816.7,469.8 L817.7,469.8 L818.7,469.8 L819.7,469.8 L820.7,469.8 L821.7,469.8 L822.7,469.8 L823.7,469.8 L824.7,469.8 L825.7,469.8 L826.7,469.8 L827.7,469.8 L828.7,469.8 L829.7,469.8 L830.7,469.7 L831.7,469.7 L832.7,469.7 L833.7,469.7 L834.7,469.7 L835.7,469.7 L836.7,469.7 L837.7,469.7 L838.7,469.7 L839.7,469.7 L840.7,469.7 L841.7,469.7 L842.7,469.7 L843.7,469.7 L844.7,469.7 L845.7,469.7 L846.7,469.7 L847.7,469.7 L848.7,469.7 L849.7,469.7 L850.7,469.7 L851.7,469.6 L852.7,469.6 L853.7,469.6 L854.7,469.6 L855.7,469.6 L856.7,469.6 L857.7,469.6 L858.7,469.6 L859.7,469.5 L860.7,469.5 L861.7,469.5 L862.7,469.5 L863.7,469.5 L864.7,469.5 L865.7,469.4 L866.7,469.4 L867.7,469.4 L868.7,469.4 L869.7,469.4 L870.7,469.4 L871.7,469.3 L872.7,469.3 L873.7,469.3 L874.7,469.3 L875.7,469.3 L876.7,469.2 L877.7,469.2 L878.7,469.2 L879.7,469.2 L880.7,469.2 L881.7,469.2 L882.7,469.1 L883.7,469.1 L884.7,469.1 L885.7,469.1 L886.7,469.1 L887.7,469.1 L888.7,469.0 L889.7,469.0 L890.7,469.0 L891.7,469.0 L892.7,469.0 L893.7,469.0 L894.7,468.9 L895.7,468.9 L896.7,468.9 L897.7,468.9 L898.7,468.9 L899.7,468.9 L900.7,468.8 L901.7,468.8 L902.7,468.8 L903.7,468.8 L904.7,468.8 L905.7,468.8 L906.7,468.7 L907.7,468.7 L908.7,468.7 L909.7,468.7 L910.7,468.7 L911.7,468.6 L912.7,468.6 L913.7,468.6 L914.7,468.6 L915.7,468.6 L916.7,468.5 L917.7,468.5 L918.7,468.5 L919.7,468.4 L920.7,468.4 L921.7,468.3 L922.7,468.3 L923.7,468.2 L924.7,468.2 L925.7,468.1 L926.7,468.0 L927.7,468.0 L928.7,467.9 L929.7,467.8 L930.7,467.8 L931.7,467.7 L932.7,467.6 L933.7,467.6 L934.7,467.5 L935.7,467.4 L936.7,467.3 L937.7,467.3 L938.7,467.2 L939.7,467.1 L940.7,467.0 L941.7,467.0 L942.7,466.9 L943.7,466.8 L944.7,466.7 L945.7,466.7 L946.7,466.6 L947.7,466.5 L948.7,466.4 L949.7,466.3 L950.7,466.3 L951.7,466.2 L952.7,466.1 L953.7,466.0 L954.7,465.9 L955.7,465.9 L956.7,465.8 L957.7,465.7 L958.7,465.6 L959.7,465.5 L960.7,465.4 L961.7,465.4 L962.7,465.3 L963.7,465.2 L964.7,465.1 L965.7,465.0 L966.7,464.9 L967.7,464.9 L968.7,464.8 L969.7,464.7 L970.7,464.6 L971.7,464.5 L972.7,464.4 L973.7,464.3 L974.7,464.2 L975.7,464.1 L976.7,464.0 L977.7,463.9 L978.7,463.8 L979.7,463.7 L980.7,463.6 L981.7,463.5 L982.7,463.3 L983.7,463.2 L984.7,463.1 L985.7,462.9 L986.7,462.8 L987.7,462.6 L988.7,462.5 L989.7,462.3 L990.7,462.2 L991.7,462.0 L992.7,461.9 L993.7,461.7 L994.7,461.6 L995.7,461.4 L996.7,461.2 L997.7,461.1 L998.7,460.9 L999.7,460.7 L1000.7,460.5 L1001.7,460.4 L1002.7,460.2 L1003.7,460.0 L1004.7,459.8 L1005.7,459.6 L1006.7,459.4 L1007.7,459.2 L1008.7,459.0 L1009.7,458.8 L1010.7,458.6 L1011.7,458.3 L1012.7,458.1 L1013.7,457.9 L1014.7,457.7 L1015.7,457.4 L1016.7,457.2 L1017.7,456.9 L1018.7,456.6 L1019.7,456.4 L1020.7,456.1 L1021.7,455.8 L1022.7,455.4 L1023.7,455.1 L1024.7,454.8 L1025.7,454.4 L1026.7,454.0 L1027.7,453.7 L1028.7,453.3 L1029.7,452.9 L1030.7,452.5 L1031.7,452.1 L1032.7,451.7 L1033.7,451.3 L1034.7,450.9 L1035.7,450.5 L1036.7,450.0 L1037.7,449.6 L1038.7,449.2 L1039.7,448.7 L1040.7,448.2 L1041.7,447.8 L1042.7,447.3 L1043.7,446.8 L1044.7,446.3 L1045.7,445.8 L1046.7,445.2 L1047.7,444.7 L1048.7,444.2 L1049.7,443.7 L1050.7,443.1 L1051.7,442.6 L1052.7,442.1 L1053.7,441.5 L1054.7,441.0 L1055.7,440.4 L1056.7,439.9 L1057.7,439.4 L1058.7,438.8 L1059.7,438.3 L1060.7,437.8 L1061.7,437.2 L1062.7,436.7 L1063.7,436.1 L1064.7,435.6 L1065.7,435.1 L1066.7,434.5 L1067.7,434.0 L1068.7,433.5 L1069.7,432.9 L1070.7,432.4 L1071.7,431.8 L1072.7,431.3 L1073.7,430.7 L1074.7,430.2 L1075.7,429.7 L1076.7,429.1 L1077.7,428.5 L1078.7,428.0 L1079.7,427.4 L1080.7,426.9 L1081.7,426.3 L1082.7,425.7 L1083.7,425.1 L1084.7,424.6 L1085.7,424.0 L1086.7,423.4 L1087.7,422.8 L1088.7,422.2 L1089.7,421.6 L1090.7,421.0 L1091.7,420.4 L1092.7,419.7 L1093.7,419.1 L1094.7,418.4 L1095.7,417.7 L1096.7,417.0 L1097.7,416.3 L1098.7,415.5 L1099.7,414.7 L1100.7,413.9 L1101.7,413.0 L1102.7,412.1 L1103.7,411.2 L1104.7,410.2 L1105.7,409.2 L1106.7,408.1 L1107.7,407.1 L1108.7,406.0 L1109.7,404.8 L1110.7,403.7 L1111.7,402.5 L1112.7,401.3 L1113.7,400.1 L1114.7,398.8 L1115.7,397.5 L1116.7,396.2 L1117.7,394.9 L1118.7,393.5 L1119.7,392.1 L1120.7,390.6 L1121.7,389.2 L1122.7,387.7 L1123.7,386.2 L1124.7,384.7 L1125.7,383.2 L1126.7,381.6 L1127.7,380.1 L1128.7,378.5 L1129.7,376.9 L1130.7,375.4 L1131.7,373.8 L1132.7,372.2 L1133.7,370.7 L1134.7,369.1 L1135.7,367.6 L1136.7,366.0 L1137.7,364.5 L1138.7,362.9 L1139.7,361.4 L1140.7,360.0 L1141.7,358.5 L1142.7,357.1 L1143.7,355.7 L1144.7,354.3 L1145.7,353.0 L1146.7,351.7 L1147.7,350.4 L1148.7,349.1 L1149.7,347.9 L1150.7,346.8 L1151.7,345.6 L1152.7,344.5 L1153.7,343.4 L1154.7,342.3 L1155.7,341.2 L1156.7,340.1 L1157.7,339.1 L1158.7,338.0 L1159.7,337.0 L1160.7,336.0 L1161.7,334.9 L1162.7,333.9 L1163.7,332.9 L1164.7,331.9 L1165.7,330.9 L1166.7,329.8 L1167.7,328.8 L1168.7,327.8 L1169.7,326.8 L1170.7,325.7 L1171.7,324.7 L1172.7,323.6 L1173.7,322.5 L1174.7,321.4 L1175.7,320.3 L1176.7,319.1 L1177.7,317.9 L1178.7,316.7 L1179.7,315.4 L1180.7,314.1 L1181.7,312.8 L1182.7,311.4 L1183.7,310.0 L1184.7,308.6 L1185.7,307.1 L1186.7,305.5 L1187.7,304.0 L1188.7,302.3 L1189.7,300.7 L1190.7,299.0 L1191.7,297.2 L1192.7,295.4 L1193.7,293.5 L1194.7,291.6 L1195.7,289.7 L1196.7,287.7 L1197.7,285.7 L1198.7,283.7 L1199.7,281.6 L1200.7,279.5 L1201.7,277.4 L1202.7,275.2 L1203.7,273.0 L1204.7,270.8 L1205.7,268.5 L1206.7,266.3 L1207.7,264.1 L1208.7,261.8 L1209.7,259.6 L1210.7,257.4 L1211.7,255.2 L1212.7,253.0 L1213.7,250.9 L1214.7,248.8 L1215.7,246.8 L1216.7,244.8 L1217.7,242.9 L1218.7,241.0 L1219.7,239.2 L1220.7,237.5 L1221.7,235.8 L1222.7,234.3 L1223.7,232.8 L1224.7,231.5 L1225.7,230.2 L1226.7,229.1 L1227.7,228.0 L1228.7,227.1 L1229.7,226.3 L1230.7,225.5 L1231.7,224.9 L1232.7,224.3 L1233.7,223.9 L1234.7,223.6 L1235.7,223.3 L1236.7,223.2 L1237.7,223.1 L1238.7,223.2 L1239.7,223.3 L1240.7,223.5 L1241.7,223.8 L1242.7,224.2 L1243.7,224.7 L1244.7,225.2 L1245.7,225.9 L1246.7,226.5 L1247.7,227.3 L1248.7,228.1 L1249.7,229.0 L1250.7,229.9 L1251.7,230.9 L1252.7,232.0 L1253.7,233.1 L1254.7,234.2 L1255.7,235.3 L1256.7,236.5 L1257.7,237.7 L1258.7,238.9 L1259.7,240.1 L1260.7,241.3 L1261.7,242.5 L1262.7,243.6 L1263.7,244.8 L1264.7,245.9 L1265.7,247.1 L1266.7,248.2 L1267.7,249.3 L1268.7,250.4 L1269.7,251.4 L1270.7,252.4 L1271.7,253.4 L1272.7,254.4 L1273.7,255.3 L1274.7,256.2 L1275.7,257.0 L1276.7,257.8 L1277.7,258.6 L1278.7,259.3 L1279.7,260.0 L1280.7,260.6 L1281.7,261.2 L1282.7,261.8 L1283.7,262.4 L1284.7,262.9 L1285.7,263.4 L1286.7,263.9 L1287.7,264.4 L1288.7,264.9 L1289.7,265.4 L1290.7,265.9 L1291.7,266.4 L1292.7,267.0 L1293.7,267.5 L1294.7,268.0 L1295.7,268.6 L1296.7,269.2 L1297.7,269.8 L1298.7,270.3 L1299.7,270.9 L1300.7,271.5 L1301.7,272.1 L1302.7,272.7 L1303.7,273.2 L1304.7,273.8 L1305.7,274.3 L1306.7,274.8 L1307.7,275.3 L1308.7,275.7 L1309.7,276.1 L1310.7,276.4" fill="none" stroke="#000" stroke-width="1.9" stroke-linejoin="round"/>
<line x1="771.70" y1="66.20" x2="771.70" y2="470.80" stroke="#000" stroke-width="2" />
<line x1="770.70" y1="470.00" x2="1311.50" y2="470.00" stroke="#000" stroke-width="2.2" />
<line x1="766.50" y1="470.20" x2="771.00" y2="470.20" stroke="#333" stroke-width="1.5" />
<text x="762.0" y="477.7" font-size="21" text-anchor="end" fill="#000" stroke="#000" stroke-width="0.34" >0.0</text>
<line x1="766.50" y1="346.50" x2="771.00" y2="346.50" stroke="#333" stroke-width="1.5" />
<text x="762.0" y="354.0" font-size="21" text-anchor="end" fill="#000" stroke="#000" stroke-width="0.34" >0.2</text>
<line x1="766.50" y1="222.80" x2="771.00" y2="222.80" stroke="#333" stroke-width="1.5" />
<text x="762.0" y="230.3" font-size="21" text-anchor="end" fill="#000" stroke="#000" stroke-width="0.34" >0.4</text>
<line x1="766.50" y1="99.10" x2="771.00" y2="99.10" stroke="#333" stroke-width="1.5" />
<text x="762.0" y="106.6" font-size="21" text-anchor="end" fill="#000" stroke="#000" stroke-width="0.34" >0.6</text>
<line x1="848.00" y1="470.20" x2="848.00" y2="475.50" stroke="#333" stroke-width="1.5" />
<text x="848.0" y="493.7" font-size="21" text-anchor="middle" fill="#000" stroke="#000" stroke-width="0.34" >1</text>
<line x1="925.00" y1="470.20" x2="925.00" y2="475.50" stroke="#333" stroke-width="1.5" />
<text x="925.0" y="493.7" font-size="21" text-anchor="middle" fill="#000" stroke="#000" stroke-width="0.34" >2</text>
<line x1="1002.00" y1="470.20" x2="1002.00" y2="475.50" stroke="#333" stroke-width="1.5" />
<text x="1002.0" y="493.7" font-size="21" text-anchor="middle" fill="#000" stroke="#000" stroke-width="0.34" >3</text>
<line x1="1079.00" y1="470.20" x2="1079.00" y2="475.50" stroke="#333" stroke-width="1.5" />
<text x="1079.0" y="493.7" font-size="21" text-anchor="middle" fill="#000" stroke="#000" stroke-width="0.34" >4</text>
<line x1="1156.00" y1="470.20" x2="1156.00" y2="475.50" stroke="#333" stroke-width="1.5" />
<text x="1156.0" y="493.7" font-size="21" text-anchor="middle" fill="#000" stroke="#000" stroke-width="0.34" >5</text>
<line x1="1233.00" y1="470.20" x2="1233.00" y2="475.50" stroke="#333" stroke-width="1.5" />
<text x="1233.0" y="493.7" font-size="21" text-anchor="middle" fill="#000" stroke="#000" stroke-width="0.34" >6</text>
<line x1="1310.00" y1="470.20" x2="1310.00" y2="475.50" stroke="#333" stroke-width="1.5" />
<text x="1310.0" y="493.7" font-size="21" text-anchor="middle" fill="#000" stroke="#000" stroke-width="0.34" >7</text>
<text x="724.4" y="267.6" font-size="27" text-anchor="middle" fill="#000" stroke="#000" stroke-width="0.43" transform="rotate(-90 724.4 267.6)" >density</text>
<text x="1041.0" y="521.5" font-size="27" text-anchor="middle" fill="#000" stroke="#000" stroke-width="0.43" >CpGs Methylated</text>
<text x="1337.0" y="244.5" font-size="27" text-anchor="start" fill="#000" stroke="#000" stroke-width="0.43" >Cell Type</text>
<rect x="1337.60" y="260.50" width="25.60" height="25.50" fill="#b1b2e0" stroke="#222" stroke-width="1.6"/>
<rect x="1337.60" y="288.10" width="25.60" height="25.50" fill="#dfc0bb" stroke="#222" stroke-width="1.6"/>
<text x="1377.7" y="281.7" font-size="21.5" text-anchor="start" fill="#000" stroke="#000" stroke-width="0.34" >K562</text>
<text x="1377.7" y="309.3" font-size="21.5" text-anchor="start" fill="#000" stroke="#000" stroke-width="0.34" >Leukocyte</text>
<rect x="112" y="645.3" width="507.9" height="467" fill="none" stroke="#222" stroke-width="1.4"/>
<line x1="105.50" y1="1086.80" x2="112.00" y2="1086.80" stroke="#333" stroke-width="1.2" />
<text x="95.5" y="1086.8" font-size="28" text-anchor="middle" fill="#000" stroke="#000" stroke-width="0.45" transform="rotate(-90 95.5 1086.8)" >0.0</text>
<line x1="105.50" y1="1003.62" x2="112.00" y2="1003.62" stroke="#333" stroke-width="1.2" />
<text x="95.5" y="1003.6" font-size="28" text-anchor="middle" fill="#000" stroke="#000" stroke-width="0.45" transform="rotate(-90 95.5 1003.6)" >0.2</text>
<line x1="105.50" y1="920.44" x2="112.00" y2="920.44" stroke="#333" stroke-width="1.2" />
<text x="95.5" y="920.4" font-size="28" text-anchor="middle" fill="#000" stroke="#000" stroke-width="0.45" transform="rotate(-90 95.5 920.4)" >0.4</text>
<line x1="105.50" y1="837.26" x2="112.00" y2="837.26" stroke="#333" stroke-width="1.2" />
<text x="95.5" y="837.3" font-size="28" text-anchor="middle" fill="#000" stroke="#000" stroke-width="0.45" transform="rotate(-90 95.5 837.3)" >0.6</text>
<line x1="105.50" y1="754.08" x2="112.00" y2="754.08" stroke="#333" stroke-width="1.2" />
<text x="95.5" y="754.1" font-size="28" text-anchor="middle" fill="#000" stroke="#000" stroke-width="0.45" transform="rotate(-90 95.5 754.1)" >0.8</text>
<line x1="105.50" y1="670.90" x2="112.00" y2="670.90" stroke="#333" stroke-width="1.2" />
<text x="95.5" y="670.9" font-size="28" text-anchor="middle" fill="#000" stroke="#000" stroke-width="0.45" transform="rotate(-90 95.5 670.9)" >1.0</text>
<line x1="137.20" y1="1112.30" x2="137.20" y2="1119.30" stroke="#333" stroke-width="1.2" />
<text x="137.2" y="1146.0" font-size="28" text-anchor="middle" fill="#000" stroke="#000" stroke-width="0.45" >0</text>
<line x1="202.50" y1="1112.30" x2="202.50" y2="1119.30" stroke="#333" stroke-width="1.2" />
<text x="202.5" y="1146.0" font-size="28" text-anchor="middle" fill="#000" stroke="#000" stroke-width="0.45" >1</text>
<line x1="267.80" y1="1112.30" x2="267.80" y2="1119.30" stroke="#333" stroke-width="1.2" />
<text x="267.8" y="1146.0" font-size="28" text-anchor="middle" fill="#000" stroke="#000" stroke-width="0.45" >2</text>
<line x1="333.10" y1="1112.30" x2="333.10" y2="1119.30" stroke="#333" stroke-width="1.2" />
<text x="333.1" y="1146.0" font-size="28" text-anchor="middle" fill="#000" stroke="#000" stroke-width="0.45" >3</text>
<line x1="398.40" y1="1112.30" x2="398.40" y2="1119.30" stroke="#333" stroke-width="1.2" />
<text x="398.4" y="1146.0" font-size="28" text-anchor="middle" fill="#000" stroke="#000" stroke-width="0.45" >4</text>
<line x1="463.70" y1="1112.30" x2="463.70" y2="1119.30" stroke="#333" stroke-width="1.2" />
<text x="463.7" y="1146.0" font-size="28" text-anchor="middle" fill="#000" stroke="#000" stroke-width="0.45" >5</text>
<line x1="529.00" y1="1112.30" x2="529.00" y2="1119.30" stroke="#333" stroke-width="1.2" />
<text x="529.0" y="1146.0" font-size="28" text-anchor="middle" fill="#000" stroke="#000" stroke-width="0.45" >6</text>
<line x1="594.30" y1="1112.30" x2="594.30" y2="1119.30" stroke="#333" stroke-width="1.2" />
<text x="594.3" y="1146.0" font-size="28" text-anchor="middle" fill="#000" stroke="#000" stroke-width="0.45" >7</text>
<text x="54.2" y="890.0" font-size="28" text-anchor="middle" fill="#000" stroke="#000" stroke-width="0.45" transform="rotate(-90 54.2 890.0)" >Probablity of of being leukocyte derived</text>
<text x="350.8" y="1176.0" font-size="28" text-anchor="middle" fill="#000" stroke="#000" stroke-width="0.45" >Methylated CpGs</text>
<polyline points="137.2,1086.8 202.5,1086.4 267.8,1065.3 333.1,825.2 398.4,678.9 463.7,670.9 529.0,670.9 594.3,670.9" fill="none" stroke="#333" stroke-width="1.2"/>
<rect x="126.9" y="1074.5" width="21.6" height="25.0" rx="5" fill="#000"/>
<rect x="192.3" y="1074.5" width="21.2" height="25.0" rx="5" fill="#000"/>
<rect x="257.5" y="1075" width="21.1" height="24.5" rx="5" fill="#000"/>
<rect x="387.8" y="658.9" width="21.2" height="23.7" rx="5" fill="#000"/>
<rect x="453.9" y="658.5" width="20.8" height="24.4" rx="5" fill="#000"/>
<rect x="518.8" y="658.5" width="20.8" height="24.4" rx="5" fill="#000"/>
<rect x="584.1" y="658.5" width="20.8" height="24.4" rx="5" fill="#000"/>
<circle cx="132.8" cy="669.4" r="3.95" fill="none" stroke="#000" stroke-width="1.05"/>
<circle cx="140.9" cy="663.6" r="3.95" fill="none" stroke="#000" stroke-width="1.05"/>
<circle cx="138.3" cy="669.4" r="3.95" fill="none" stroke="#000" stroke-width="1.05"/>
<circle cx="132.8" cy="677.4" r="3.95" fill="none" stroke="#000" stroke-width="1.05"/>
<circle cx="135.4" cy="675.6" r="3.95" fill="none" stroke="#000" stroke-width="1.05"/>
<circle cx="136.5" cy="673.8" r="3.95" fill="none" stroke="#000" stroke-width="1.05"/>
<circle cx="199.6" cy="666.5" r="3.95" fill="none" stroke="#000" stroke-width="1.05"/>
<circle cx="206.9" cy="670.1" r="3.95" fill="none" stroke="#000" stroke-width="1.05"/>
<circle cx="204.7" cy="674.9" r="3.95" fill="none" stroke="#000" stroke-width="1.05"/>
<circle cx="261.9" cy="665.5" r="3.95" fill="none" stroke="#000" stroke-width="1.05"/>
<circle cx="264.9" cy="665.5" r="3.95" fill="none" stroke="#000" stroke-width="1.05"/>
<circle cx="268.0" cy="664.9" r="3.95" fill="none" stroke="#000" stroke-width="1.05"/>
<circle cx="275.0" cy="664.1" r="3.95" fill="none" stroke="#000" stroke-width="1.05"/>
<circle cx="261.9" cy="672.6" r="3.95" fill="none" stroke="#000" stroke-width="1.05"/>
<circle cx="269.2" cy="671.9" r="3.95" fill="none" stroke="#000" stroke-width="1.05"/>
<circle cx="263.1" cy="678.3" r="3.95" fill="none" stroke="#000" stroke-width="1.05"/>
<circle cx="274.3" cy="676.2" r="3.95" fill="none" stroke="#000" stroke-width="1.05"/>
<circle cx="328.8" cy="1086.8" r="3.95" fill="none" stroke="#000" stroke-width="1.05"/>
<circle cx="337.2" cy="1086.3" r="3.95" fill="none" stroke="#000" stroke-width="1.05"/>
<circle cx="334.6" cy="1089.7" r="3.95" fill="none" stroke="#000" stroke-width="1.05"/>
<circle cx="328.8" cy="1094.8" r="3.95" fill="none" stroke="#000" stroke-width="1.05"/>
<circle cx="336.4" cy="1095.3" r="3.95" fill="none" stroke="#000" stroke-width="1.05"/>
<circle cx="338.9" cy="1095.3" r="3.95" fill="none" stroke="#000" stroke-width="1.05"/>
<circle cx="394.0" cy="1090.8" r="3.95" fill="none" stroke="#000" stroke-width="1.05"/>
<circle cx="524.3" cy="1090.0" r="3.95" fill="none" stroke="#000" stroke-width="1.05"/>
<circle cx="331.1" cy="670.7" r="3.95" fill="none" stroke="#000" stroke-width="1.05"/>
<circle cx="332.6" cy="671.6" r="3.95" fill="none" stroke="#000" stroke-width="1.05"/>
<circle cx="335.4" cy="663.5" r="3.95" fill="none" stroke="#000" stroke-width="1.05"/>
<circle cx="328.6" cy="675.1" r="3.95" fill="none" stroke="#000" stroke-width="1.05"/>
<circle cx="331.4" cy="666.0" r="3.95" fill="none" stroke="#000" stroke-width="1.05"/>
<circle cx="339.5" cy="669.6" r="3.95" fill="none" stroke="#000" stroke-width="1.05"/>
<circle cx="337.7" cy="669.6" r="3.95" fill="none" stroke="#000" stroke-width="1.05"/>
<circle cx="335.5" cy="664.8" r="3.95" fill="none" stroke="#000" stroke-width="1.05"/>
<circle cx="335.5" cy="675.5" r="3.95" fill="none" stroke="#000" stroke-width="1.05"/>
<circle cx="334.3" cy="673.6" r="3.95" fill="none" stroke="#000" stroke-width="1.05"/>
<circle cx="335.9" cy="663.5" r="3.95" fill="none" stroke="#000" stroke-width="1.05"/>
<circle cx="336.8" cy="671.4" r="3.95" fill="none" stroke="#000" stroke-width="1.05"/>
<circle cx="331.8" cy="663.0" r="3.95" fill="none" stroke="#000" stroke-width="1.05"/>
<circle cx="338.0" cy="669.6" r="3.95" fill="none" stroke="#000" stroke-width="1.05"/>
<circle cx="336.4" cy="675.7" r="3.95" fill="none" stroke="#000" stroke-width="1.05"/>
<circle cx="336.4" cy="676.3" r="3.95" fill="none" stroke="#000" stroke-width="1.05"/>
<circle cx="332.8" cy="674.5" r="3.95" fill="none" stroke="#000" stroke-width="1.05"/>
<circle cx="333.4" cy="676.5" r="3.95" fill="none" stroke="#000" stroke-width="1.05"/>
<circle cx="338.2" cy="664.0" r="3.95" fill="none" stroke="#000" stroke-width="1.05"/>
<circle cx="330.0" cy="665.8" r="3.95" fill="none" stroke="#000" stroke-width="1.05"/>
<circle cx="339.1" cy="669.0" r="3.95" fill="none" stroke="#000" stroke-width="1.05"/>
<circle cx="335.4" cy="667.0" r="3.95" fill="none" stroke="#000" stroke-width="1.05"/>
<circle cx="334.1" cy="668.3" r="3.95" fill="none" stroke="#000" stroke-width="1.05"/>
<circle cx="332.4" cy="671.3" r="3.95" fill="none" stroke="#000" stroke-width="1.05"/>
<circle cx="334.9" cy="676.1" r="3.95" fill="none" stroke="#000" stroke-width="1.05"/>
<circle cx="336.0" cy="676.4" r="3.95" fill="none" stroke="#000" stroke-width="1.05"/>
<circle cx="337.9" cy="677.4" r="3.95" fill="none" stroke="#000" stroke-width="1.05"/>
<circle cx="335.9" cy="664.9" r="3.95" fill="none" stroke="#000" stroke-width="1.05"/>
<circle cx="338.0" cy="677.0" r="3.95" fill="none" stroke="#000" stroke-width="1.05"/>
<circle cx="338.5" cy="671.0" r="3.95" fill="none" stroke="#000" stroke-width="1.05"/>
<circle cx="336.4" cy="665.7" r="3.95" fill="none" stroke="#000" stroke-width="1.05"/>
<circle cx="337.6" cy="671.1" r="3.95" fill="none" stroke="#000" stroke-width="1.05"/>
<circle cx="331.6" cy="663.5" r="3.95" fill="none" stroke="#000" stroke-width="1.05"/>
<circle cx="337.9" cy="677.3" r="3.95" fill="none" stroke="#000" stroke-width="1.05"/>
<circle cx="329.5" cy="674.5" r="3.95" fill="none" stroke="#000" stroke-width="1.05"/>
<circle cx="333.0" cy="664.8" r="3.95" fill="none" stroke="#000" stroke-width="1.05"/>
<circle cx="331.7" cy="674.0" r="3.95" fill="none" stroke="#000" stroke-width="1.05"/>
<circle cx="338.1" cy="663.2" r="3.95" fill="none" stroke="#000" stroke-width="1.05"/>
<circle cx="335.3" cy="663.2" r="3.95" fill="none" stroke="#000" stroke-width="1.05"/>
<circle cx="336.4" cy="667.5" r="3.95" fill="none" stroke="#000" stroke-width="1.05"/>
<rect x="788.5" y="621.9" width="497.9" height="497.8" fill="none" stroke="#333" stroke-width="1.6"/>
<line x1="788.50" y1="1119.70" x2="1286.40" y2="621.30" stroke="#c6c6c6" stroke-width="1.3" />
<polyline points="806.8,1101.3 806.9,642.9 826.2,641.2 1268.6,640.5" fill="none" stroke="#955aab" stroke-width="2.2"/>
<line x1="779.50" y1="1101.30" x2="788.50" y2="1101.30" stroke="#444" stroke-width="1.5" />
<text x="774.5" y="1101.3" font-size="31" text-anchor="middle" fill="#000" stroke="#000" stroke-width="0.50" transform="rotate(-90 774.5 1101.3)" >0.0</text>
<line x1="806.70" y1="1119.70" x2="806.70" y2="1128.70" stroke="#444" stroke-width="1.5" />
<text x="806.7" y="1157.0" font-size="31" text-anchor="middle" fill="#000" stroke="#000" stroke-width="0.50" >0.0</text>
<line x1="779.50" y1="1009.20" x2="788.50" y2="1009.20" stroke="#444" stroke-width="1.5" />
<text x="774.5" y="1009.2" font-size="31" text-anchor="middle" fill="#000" stroke="#000" stroke-width="0.50" transform="rotate(-90 774.5 1009.2)" >0.2</text>
<line x1="898.80" y1="1119.70" x2="898.80" y2="1128.70" stroke="#444" stroke-width="1.5" />
<text x="898.8" y="1157.0" font-size="31" text-anchor="middle" fill="#000" stroke="#000" stroke-width="0.50" >0.2</text>
<line x1="779.50" y1="917.10" x2="788.50" y2="917.10" stroke="#444" stroke-width="1.5" />
<text x="774.5" y="917.1" font-size="31" text-anchor="middle" fill="#000" stroke="#000" stroke-width="0.50" transform="rotate(-90 774.5 917.1)" >0.4</text>
<line x1="990.90" y1="1119.70" x2="990.90" y2="1128.70" stroke="#444" stroke-width="1.5" />
<text x="990.9" y="1157.0" font-size="31" text-anchor="middle" fill="#000" stroke="#000" stroke-width="0.50" >0.4</text>
<line x1="779.50" y1="825.00" x2="788.50" y2="825.00" stroke="#444" stroke-width="1.5" />
<text x="774.5" y="825.0" font-size="31" text-anchor="middle" fill="#000" stroke="#000" stroke-width="0.50" transform="rotate(-90 774.5 825.0)" >0.6</text>
<line x1="1083.00" y1="1119.70" x2="1083.00" y2="1128.70" stroke="#444" stroke-width="1.5" />
<text x="1083.0" y="1157.0" font-size="31" text-anchor="middle" fill="#000" stroke="#000" stroke-width="0.50" >0.6</text>
<line x1="779.50" y1="732.90" x2="788.50" y2="732.90" stroke="#444" stroke-width="1.5" />
<text x="774.5" y="732.9" font-size="31" text-anchor="middle" fill="#000" stroke="#000" stroke-width="0.50" transform="rotate(-90 774.5 732.9)" >0.8</text>
<line x1="1175.10" y1="1119.70" x2="1175.10" y2="1128.70" stroke="#444" stroke-width="1.5" />
<text x="1175.1" y="1157.0" font-size="31" text-anchor="middle" fill="#000" stroke="#000" stroke-width="0.50" >0.8</text>
<line x1="779.50" y1="640.80" x2="788.50" y2="640.80" stroke="#444" stroke-width="1.5" />
<text x="774.5" y="640.8" font-size="31" text-anchor="middle" fill="#000" stroke="#000" stroke-width="0.50" transform="rotate(-90 774.5 640.8)" >1.0</text>
<line x1="1267.20" y1="1119.70" x2="1267.20" y2="1128.70" stroke="#444" stroke-width="1.5" />
<text x="1267.2" y="1157.0" font-size="31" text-anchor="middle" fill="#000" stroke="#000" stroke-width="0.50" >1.0</text>
<text x="1037.0" y="1194.0" font-size="37" text-anchor="middle" fill="#000" stroke="#000" stroke-width="0.59" >1 - Specificity</text>
<text x="734.5" y="870.4" font-size="37.5" text-anchor="middle" fill="#000" stroke="#000" stroke-width="0.60" transform="rotate(-90 734.5 870.4)" >Sensitivity</text>
<text x="1066.5" y="883.0" font-size="21" text-anchor="start" fill="#955aab" stroke="#955aab" stroke-width="0.34" >AUC: 0.998</text>
<line x1="115.30" y1="1309.80" x2="115.30" y2="1727.60" stroke="#000" stroke-width="1.7" />
<line x1="114.50" y1="1726.80" x2="621.00" y2="1726.80" stroke="#000" stroke-width="1.7" />
<text x="96.0" y="1733.2" font-size="24" text-anchor="end" fill="#000" stroke="#000" stroke-width="0.38" >0</text>
<text x="115.3" y="1758.7" font-size="24" text-anchor="middle" fill="#000" stroke="#000" stroke-width="0.38" >0</text>
<text x="96.0" y="1631.3" font-size="24" text-anchor="end" fill="#000" stroke="#000" stroke-width="0.38" >25</text>
<text x="241.6" y="1758.7" font-size="24" text-anchor="middle" fill="#000" stroke="#000" stroke-width="0.38" >25</text>
<text x="96.0" y="1525.6" font-size="24" text-anchor="end" fill="#000" stroke="#000" stroke-width="0.38" >50</text>
<text x="367.8" y="1758.7" font-size="24" text-anchor="middle" fill="#000" stroke="#000" stroke-width="0.38" >50</text>
<text x="96.0" y="1420.6" font-size="24" text-anchor="end" fill="#000" stroke="#000" stroke-width="0.38" >75</text>
<text x="494.1" y="1758.7" font-size="24" text-anchor="middle" fill="#000" stroke="#000" stroke-width="0.38" >75</text>
<text x="96.0" y="1317.8" font-size="24" text-anchor="end" fill="#000" stroke="#000" stroke-width="0.38" >100</text>
<text x="620.3" y="1758.7" font-size="24" text-anchor="middle" fill="#000" stroke="#000" stroke-width="0.38" >100</text>
<line x1="115.30" y1="1519.20" x2="611.00" y2="1519.20" stroke="#bdbdbd" stroke-width="3.4" stroke-dasharray="12.6 15.8" stroke-linecap="round"/>
<path d="M115.3,1729.5 Q367.35,1507.5 619.4,1317.2" fill="none" stroke="#808080" stroke-width="3.7"/>
<line x1="115.3" y1="1729.2" x2="620" y2="1308.1" stroke="#e60000" stroke-width="4" stroke-dasharray="10.8 17.56" stroke-dashoffset="-2.34" stroke-linecap="round" style="mix-blend-mode:multiply"/>
<circle cx="113.2" cy="1724.7" r="4.9" fill="#000"/>
<circle cx="366.5" cy="1509.9" r="4.7" fill="#000"/>
<circle cx="619.4" cy="1317.9" r="5.0" fill="#000"/>
<text x="44.5" y="1520.0" font-size="24.5" text-anchor="middle" fill="#000" stroke="#000" stroke-width="0.39" transform="rotate(-90 44.5 1520.0)" >Observed Leukocyte Estimate (%)</text>
<text x="366.0" y="1788.8" font-size="24" text-anchor="middle" fill="#000" stroke="#000" stroke-width="0.38" >Expected Leukocyte Estimate (%)</text>
<text x="844.5" y="1702.6" font-size="27" text-anchor="end" fill="#000" stroke="#000" stroke-width="0.43" >50</text>
<text x="844.5" y="1595.6" font-size="27" text-anchor="end" fill="#000" stroke="#000" stroke-width="0.43" >55</text>
<text x="844.5" y="1488.6" font-size="27" text-anchor="end" fill="#000" stroke="#000" stroke-width="0.43" >60</text>
<text x="844.5" y="1381.6" font-size="27" text-anchor="end" fill="#000" stroke="#000" stroke-width="0.43" >65</text>
<text x="844.5" y="1274.6" font-size="27" text-anchor="end" fill="#000" stroke="#000" stroke-width="0.43" >70</text>
<rect x="872.40" y="1328.30" width="41.30" height="364.70" fill="#808080" />
<text x="894.5" y="1724.5" font-size="26" text-anchor="end" fill="#000" stroke="#000" stroke-width="0.42" transform="rotate(-45 894.5 1724.5)" >250 ng</text>
<rect x="925.30" y="1295.70" width="41.30" height="397.30" fill="#808080" />
<text x="947.4" y="1724.5" font-size="26" text-anchor="end" fill="#000" stroke="#000" stroke-width="0.42" transform="rotate(-45 947.4 1724.5)" >62.5 ng</text>
<rect x="978.30" y="1316.50" width="41.30" height="376.50" fill="#808080" />
<text x="1000.4" y="1724.5" font-size="26" text-anchor="end" fill="#000" stroke="#000" stroke-width="0.42" transform="rotate(-45 1000.4 1724.5)" >31.25 ng</text>
<rect x="1033.60" y="1316.50" width="41.30" height="376.50" fill="#808080" />
<text x="1055.8" y="1724.5" font-size="26" text-anchor="end" fill="#000" stroke="#000" stroke-width="0.42" transform="rotate(-45 1055.8 1724.5)" >15.63 ng</text>
<rect x="1086.90" y="1330.50" width="41.30" height="362.50" fill="#808080" />
<text x="1109.1" y="1724.5" font-size="26" text-anchor="end" fill="#000" stroke="#000" stroke-width="0.42" transform="rotate(-45 1109.1 1724.5)" >7.81 ng</text>
<rect x="1139.90" y="1326.00" width="41.30" height="367.00" fill="#808080" />
<text x="1162.1" y="1724.5" font-size="26" text-anchor="end" fill="#000" stroke="#000" stroke-width="0.42" transform="rotate(-45 1162.1 1724.5)" >3.91 ng</text>
<rect x="1195.10" y="1326.00" width="41.30" height="367.00" fill="#808080" />
<text x="1217.2" y="1724.5" font-size="26" text-anchor="end" fill="#000" stroke="#000" stroke-width="0.42" transform="rotate(-45 1217.2 1724.5)" >1.95 ng</text>
<rect x="1248.10" y="1590.80" width="41.30" height="102.20" fill="#808080" />
<text x="1270.2" y="1724.5" font-size="26" text-anchor="end" fill="#000" stroke="#000" stroke-width="0.42" transform="rotate(-45 1270.2 1724.5)" >0.98 ng</text>
<line x1="864.00" y1="1693.00" x2="1295.40" y2="1693.00" stroke="#000" stroke-width="2" />
<text x="800.0" y="1482.0" font-size="28" text-anchor="middle" fill="#000" stroke="#000" stroke-width="0.45" transform="rotate(-90 800.0 1482.0)" >Leukocyte Estimate (%)</text>
</svg>
</body></html>
